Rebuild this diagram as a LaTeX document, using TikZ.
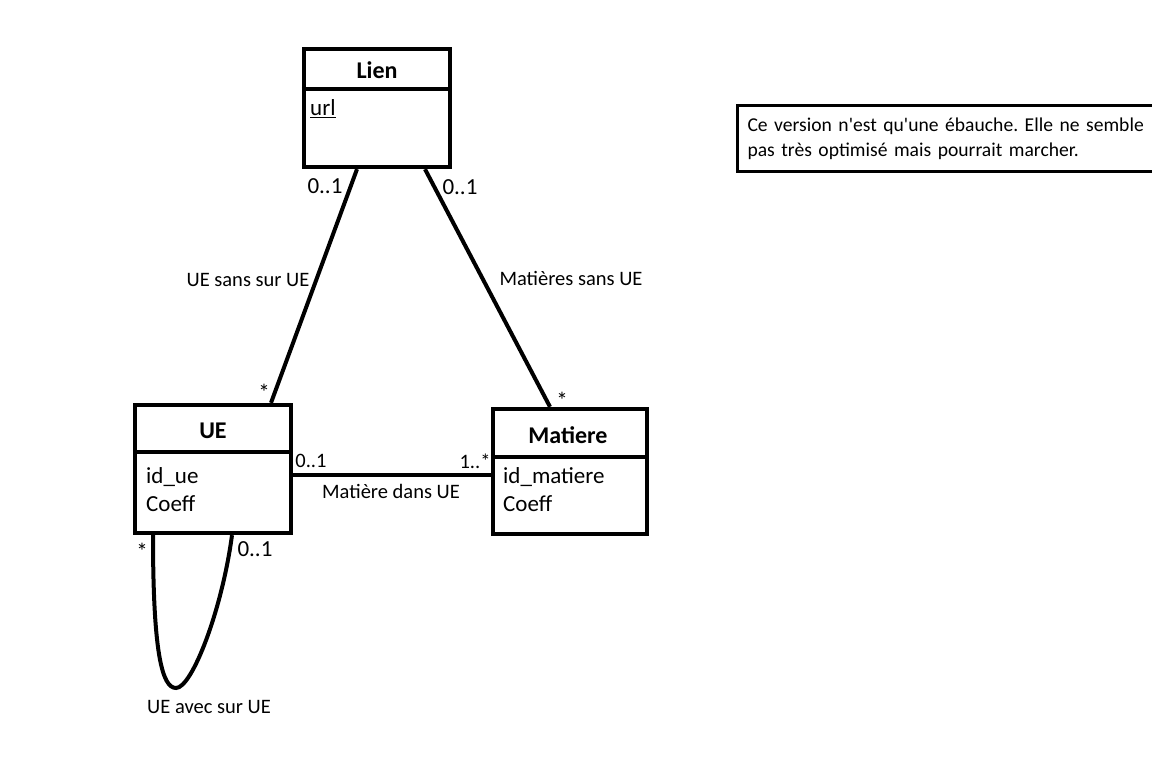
\documentclass[tikz,border=0pt]{standalone}
\usepackage{fontspec}
\setmainfont{Carlito}
\begin{document}
\begin{tikzpicture}[x=1pt,y=-1pt,
  box/.style={draw,line width=4.3pt,rectangle,inner sep=0pt},
  divider/.style={line width=4.3pt},
  conn/.style={line width=4pt},
  title/.style={font=\fontsize{24}{28}\selectfont\bfseries,inner sep=0pt},
  attr/.style={font=\fontsize{23}{27}\selectfont,inner sep=0pt,anchor=west},
  lbl/.style={font=\fontsize{20.5}{24}\selectfont,inner sep=0pt},
  mult/.style={font=\fontsize{23}{27}\selectfont,inner sep=0pt},
  smult/.style={font=\fontsize{20.5}{24}\selectfont,inner sep=0pt}]
\useasboundingbox[fill=white] (0,0) rectangle (1152,782);
% Lien
\node[box,minimum width=146pt,minimum height=118pt] (lien) at (377,108) {};
\draw[divider] (lien.west |- 0,89) -- (lien.east |- 0,89);
\node[title] (lientitle) at (377,70) {Lien};
\node[attr] (lienurl) at (310,109) {\underline{url}};
% UE
\node[box,minimum width=156pt,minimum height=128pt] (ue) at (213,469) {};
\draw[divider] (ue.west |- 0,452) -- (ue.east |- 0,452);
\node[title] (uetitle) at (213,431) {UE};
\node[attr] (ueid) at (146,477) {id\_ue};
\node[attr] (uecoeff) at (146,504) {Coeff};
% Matiere
\node[box,minimum width=154pt,minimum height=125pt] (mat) at (570,471.5) {};
\draw[divider] (mat.west |- 0,457) -- (mat.east |- 0,457);
\node[title] (mattitle) at (568,435) {Matiere};
\node[attr] (matid) at (503,477) {id\_matiere};
\node[attr] (matcoeff) at (503,504) {Coeff};
% Note
\node[draw,line width=3pt,anchor=north west,minimum width=440pt,minimum height=66pt,
  text width=420pt,align=left,inner xsep=6pt,inner ysep=4pt,
  font=\fontsize{19.6}{25}\selectfont\frenchspacing] (note) at (736,104)
  {Ce version n\textquotesingle est qu\textquotesingle une ébauche. Elle ne semble\\pas très optimisé mais pourrait marcher.};
% connectors
\draw[conn] ([xshift=-20pt]lien.south) -- ([xshift=58pt]ue.north);
\draw[conn] ([xshift=48pt]lien.south) -- ([xshift=-20pt]mat.north);
\draw[conn] ([yshift=-6pt]ue.east) -- ([yshift=-3.5pt]mat.west);
\draw[conn] ([xshift=-60pt]ue.south) .. controls +(0,117) and (162,688) .. (176,688)
  .. controls (192,688) and (222,610) .. ([xshift=19pt]ue.south);
% labels
\node[mult] (m1) at (325,186) {0..1};
\node[mult] (m2) at (460,187) {0..1};
\node[lbl] (l1) at (248,280) {UE sans sur UE};
\node[lbl] (l2) at (571,278) {Matières sans UE};
\node[mult] (m3) at (264,392) {*};
\node[mult] (m4) at (562,400) {*};
\node[smult] (m5) at (311,461) {0..1};
\node[smult] (m6) at (475,461) {1..*};
\node[lbl] (l3) at (391,491) {Matière dans UE};
\node[mult] (m7) at (142,551) {*};
\node[mult] (m8) at (255,549) {0..1};
\node[lbl] (l4) at (209,707) {UE avec sur UE};
\end{tikzpicture}
\end{document}
